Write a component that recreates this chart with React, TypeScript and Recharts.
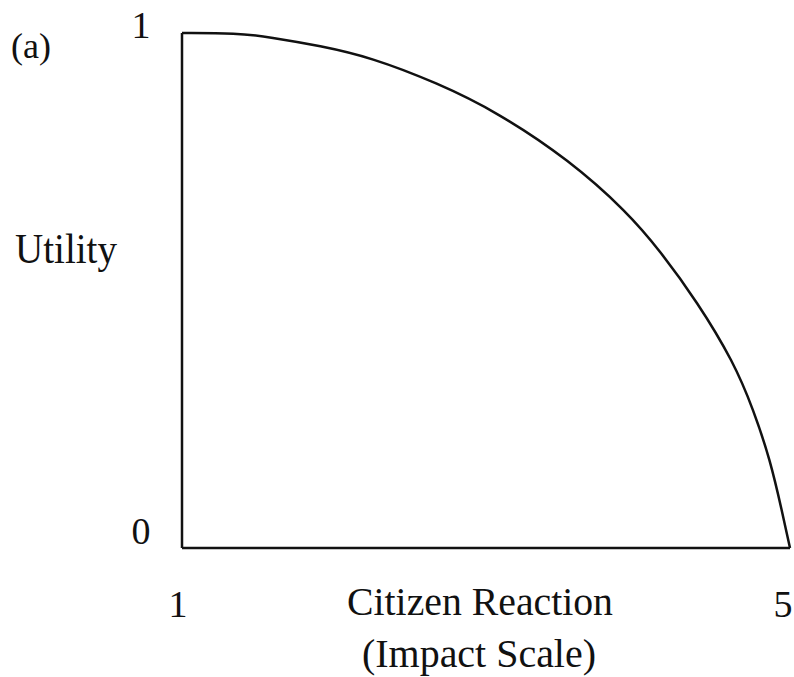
import { LineChart, Line, XAxis, YAxis, Label } from 'recharts'

// utility curve against citizen reaction on the 1..5 impact scale
const reaction = [1, 1.36, 1.58, 1.91, 2.24, 2.68, 3.07, 3.55, 3.93, 4.14, 4.39, 4.63, 4.76, 4.87, 4.95, 5]
const utility = [1, 1, 0.992, 0.975, 0.953, 0.903, 0.847, 0.753, 0.652, 0.579, 0.478, 0.361, 0.268, 0.171, 0.068, 0]

const xTicks = [1, 5]
const yTicks = [0, 1]

const data = reaction.map((x, i) => ({ x, u: utility[i] }))

const font = '"Liberation Serif", "DejaVu Serif", serif'
const ink = '#111'

const XTick = (props: any) => {
  const { x, y, payload } = props
  const shift = payload.value === 5 ? -7 : -4
  return (
    <text x={x + shift} y={y + 61} textAnchor="middle" fontFamily={font} fontSize={38} fill={ink}>
      {payload.value}
    </text>
  )
}

const YTick = (props: any) => {
  const { x, y, payload } = props
  const lift = payload.value === 1 ? 5 : -4
  return (
    <text x={x - 33} y={y + lift} textAnchor="middle" fontFamily={font} fontSize={38} fill={ink}>
      {payload.value}
    </text>
  )
}

export default function App() {
  return (
    <div style={{ position: 'absolute', left: 0, top: 0, background: '#fff' }}>
      <LineChart width={794} height={677} data={data} margin={{ top: 33, right: 4, bottom: 99, left: 122 }}>
        <XAxis
          dataKey="x"
          type="number"
          domain={[1, 5]}
          ticks={xTicks}
          tickLine={false}
          axisLine={{ stroke: ink, strokeWidth: 2.5 }}
          tick={<XTick />}
          height={30}
        >
          <Label
            content={() => (
              <g fontFamily={font} fontSize={40} fill={ink}>
                <text x={347} y={615} textLength={266} lengthAdjust="spacingAndGlyphs">Citizen Reaction</text>
                <text x={362} y={667} textLength={234} lengthAdjust="spacingAndGlyphs">(Impact Scale)</text>
              </g>
            )}
          />
        </XAxis>
        <YAxis
          type="number"
          domain={[0, 1]}
          ticks={yTicks}
          tickLine={false}
          axisLine={{ stroke: ink, strokeWidth: 2.5 }}
          tick={<YTick />}
          width={60}
        >
          <Label
            content={() => (
              <g fontFamily={font} fill={ink}>
                <text x={11} y={58} fontSize={36}>(a)</text>
                <text x={15} y={263} fontSize={43} textLength={102} lengthAdjust="spacingAndGlyphs">Utility</text>
              </g>
            )}
          />
        </YAxis>
        <Line
          dataKey="u"
          type="basis"
          stroke={ink}
          strokeWidth={2.5}
          dot={false}
          isAnimationActive={false}
        />
      </LineChart>
    </div>
  )
}
